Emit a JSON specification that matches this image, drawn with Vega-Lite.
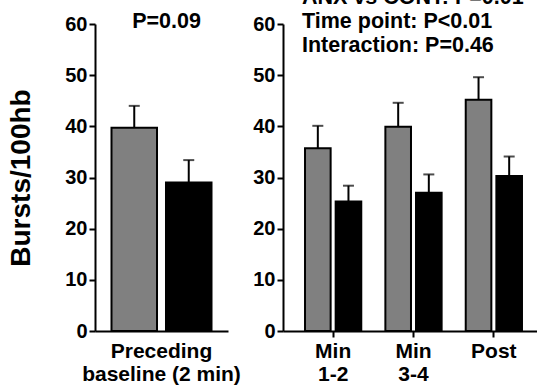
{
  "$schema": "https://vega.github.io/schema/vega-lite/v6.json",
  "autosize": {"type": "none"},
  "padding": {"left": 95, "top": 24, "right": 442, "bottom": 361},
  "bounds": "flush",
  "spacing": 55,
  "background": "white",
  "resolve": {"scale": {"x": "independent", "xOffset": "independent", "y": "independent"}},
  "config": {
    "view": {"stroke": null},
    "font": "Liberation Sans",
    "axis": {
      "domainColor": "black", "domainWidth": 2, "tickColor": "black", "tickWidth": 2, "tickSize": 6,
      "labelColor": "black", "labelFont": "Liberation Sans", "labelFontWeight": "bold", "grid": false,
      "titleColor": "black", "titleFont": "Liberation Sans", "titleFontWeight": "bold"
    }
  },
  "datasets": {
    "bars": [
      {"panel": "baseline", "period": "Preceding|baseline (2 min)", "group": "CONT", "value": 39.7, "err": 44.0},
      {"panel": "baseline", "period": "Preceding|baseline (2 min)", "group": "ANX", "value": 29.0, "err": 33.4},
      {"panel": "time", "period": "Min|1-2", "group": "CONT", "value": 35.7, "err": 40.1},
      {"panel": "time", "period": "Min|1-2", "group": "ANX", "value": 25.3, "err": 28.4},
      {"panel": "time", "period": "Min|3-4", "group": "CONT", "value": 39.9, "err": 44.6},
      {"panel": "time", "period": "Min|3-4", "group": "ANX", "value": 27.0, "err": 30.6},
      {"panel": "time", "period": "Post", "group": "CONT", "value": 45.2, "err": 49.6},
      {"panel": "time", "period": "Post", "group": "ANX", "value": 30.3, "err": 34.1}
    ],
    "notes_left": [{"note": "P=0.09"}],
    "notes_right": [{"note": ["ANX vs CONT: P=0.01", "Time point: P<0.01", "Interaction: P=0.46"]}]
  },
  "hconcat": [
    {
      "width": 133,
      "height": 307,
      "layer": [
        {
          "data": {"name": "bars"},
          "transform": [{"filter": "datum.panel === 'baseline'"}],
          "encoding": {
            "x": {"field": "period", "type": "nominal", "scale": {"paddingOuter": 0.165, "paddingInner": 0},
              "axis": {"title": null, "labelAngle": 0, "labelExpr": "split(datum.label, '|')", "labelFontSize": 21, "labelLineHeight": 23, "tickOpacity": 0, "labelPadding": 3}},
            "xOffset": {"field": "group", "type": "nominal", "sort": ["CONT", "ANX"], "scale": {"paddingInner": 0.165, "paddingOuter": 0}},
            "y": {"field": "value", "type": "quantitative", "scale": {"domain": [0, 60], "nice": false},
              "axis": {"title": "Bursts/100hb", "titleFontSize": 28, "titlePadding": 29, "values": [0, 10, 20, 30, 40, 50, 60], "labelFontSize": 20, "labelPadding": 2}}
          },
          "layer": [
            {"mark": {"type": "rule", "strokeWidth": 2, "color": "black"}, "encoding": {"y2": {"field": "err"}}},
            {"mark": {"type": "tick", "thickness": 2, "size": 11, "color": "black"}, "encoding": {"y": {"field": "err", "type": "quantitative"}}},
            {"mark": {"type": "bar", "stroke": "black", "strokeWidth": 2},
              "encoding": {"color": {"field": "group", "type": "nominal", "scale": {"domain": ["CONT", "ANX"], "range": ["#808080", "#000000"]}, "legend": null}}}
          ]
        },
        {
          "data": {"name": "notes_left"},
          "mark": {"type": "text", "fontSize": 21.5, "fontWeight": "bold", "align": "center", "baseline": "alphabetic", "color": "black", "dx": 5},
          "encoding": {
            "text": {"field": "note"},
            "x": {"datum": "Preceding|baseline (2 min)", "type": "nominal", "bandPosition": 0.5},
            "y": {"datum": 59.2, "type": "quantitative"}
          }
        }
      ]
    },
    {
      "width": 261,
      "height": 307,
      "layer": [
        {
          "data": {"name": "bars"},
          "transform": [{"filter": "datum.panel === 'time'"}],
          "encoding": {
            "x": {"field": "period", "type": "nominal", "sort": ["Min|1-2", "Min|3-4", "Post"], "scale": {"paddingOuter": 0.274, "paddingInner": 0.3},
              "axis": {"title": null, "labelAngle": 0, "labelExpr": "split(datum.label, '|')", "labelFontSize": 21, "labelLineHeight": 23, "labelPadding": 3}},
            "xOffset": {"field": "group", "type": "nominal", "sort": ["CONT", "ANX"], "scale": {"paddingInner": 0.164, "paddingOuter": 0}},
            "y": {"field": "value", "type": "quantitative", "scale": {"domain": [0, 60], "nice": false},
              "axis": {"title": null, "values": [0, 10, 20, 30, 40, 50, 60], "labelFontSize": 20, "labelPadding": 2}}
          },
          "layer": [
            {"mark": {"type": "rule", "strokeWidth": 2, "color": "black"}, "encoding": {"y2": {"field": "err"}}},
            {"mark": {"type": "tick", "thickness": 2, "size": 11, "color": "black"}, "encoding": {"y": {"field": "err", "type": "quantitative"}}},
            {"mark": {"type": "bar", "stroke": "black", "strokeWidth": 2},
              "encoding": {"color": {"field": "group", "type": "nominal", "scale": {"domain": ["CONT", "ANX"], "range": ["#808080", "#000000"]}, "legend": null}}}
          ]
        },
        {
          "data": {"name": "notes_right"},
          "mark": {"type": "text", "lineHeight": 24, "fontSize": 21.5, "fontWeight": "bold", "align": "left", "baseline": "alphabetic", "color": "black", "dx": -3},
          "encoding": {
            "text": {"field": "note"},
            "x": {"datum": "Min|1-2", "type": "nominal", "bandPosition": 0},
            "y": {"datum": 63.9, "type": "quantitative"}
          }
        }
      ]
    }
  ]
}
